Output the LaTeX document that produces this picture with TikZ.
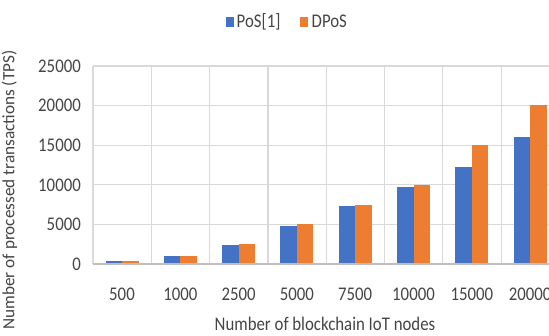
\documentclass[tikz,border=0pt]{standalone}
\usepackage{fontspec}
\setmainfont{Carlito}
\definecolor{posblue}{HTML}{4472C4}
\definecolor{dposorange}{HTML}{ED7D31}
\definecolor{gridgray}{HTML}{D9D9D9}
\definecolor{axisgray}{HTML}{BFBFBF}
\definecolor{labelgray}{HTML}{454545}
% Labels are set slightly taller than their natural shape
\newcommand{\vstretch}[1]{\scalebox{1}[1.15]{#1}}
\begin{document}
\begin{tikzpicture}[x=1pt,y=-1pt,
  font=\fontsize{16.8}{20}\selectfont,
  every node/.style={text=labelgray, inner sep=0pt},
  gridline/.style={gridgray, line width=1.2pt},
  ticklabel/.style={anchor=east},
  catlabel/.style={anchor=center}]
\useasboundingbox (0,0) rectangle (549,335);
\fill[white] (0,0) rectangle (549,335);
\begin{scope}
  \clip (0,0) rectangle (549,335);
  % horizontal gridlines every 5000 TPS (values in thousands, 7.92pt per thousand)
  \foreach \v in {5,10,...,25}
    \draw[gridline] (93,{264-\v*7.92}) -- (560,{264-\v*7.92});
  % category separators
  \foreach \i in {0,...,8}
    \draw[gridline] ({93+58.3*\i},66) -- ({93+58.3*\i},264);
  % clustered bars: PoS[1] and DPoS
  \foreach \i/\p/\d in {0/0.4/0.4, 1/0.95/0.95, 2/2.38/2.5, 3/4.75/5.0,
                        4/7.3/7.45, 5/9.7/10.0, 6/12.25/15.0, 7/16.05/20.05} {
    \fill[posblue] ({122+58.3*\i-16.5},264) rectangle ({122+58.3*\i},{264-\p*7.92});
    \fill[dposorange] ({122+58.3*\i},264) rectangle ({122+58.3*\i+16.5},{264-\d*7.92});
  }
  % category axis
  \draw[axisgray, line width=1.2pt] (93,264) -- (560,264);
  % category labels
  \foreach \i/\t in {0/500, 1/1000, 2/2500, 3/5000, 4/7500, 5/10000, 6/15000, 7/20000}
    \node[catlabel] (cat\i) at ({122+58.3*\i},294.5) {\vstretch{\t}};
\end{scope}
% value axis labels
\foreach \v/\lab in {0/0, 5/5000, 10/10000, 15/15000, 20/20000, 25/25000}
  \node[ticklabel] (val\v) at (81,{264-\v*7.92}) {\vstretch{\lab}};
% axis titles
\node (xtitle) at (325,324) {\vstretch{Number of blockchain IoT nodes}};
\node[rotate=90, font=\fontsize{17.2}{20}\selectfont] (ytitle) at (9.5,190)
  {Number of processed transactions (TPS)};
% legend
\fill[posblue] (226,17) rectangle (233.5,26.5);
\node[anchor=west] (legpos) at (236.5,21.5) {\vstretch{PoS[1]}};
\fill[dposorange] (300,17) rectangle (307.5,26.5);
\node[anchor=west] (legdpos) at (311.5,21.5) {\vstretch{DPoS}};
\end{tikzpicture}
\end{document}
